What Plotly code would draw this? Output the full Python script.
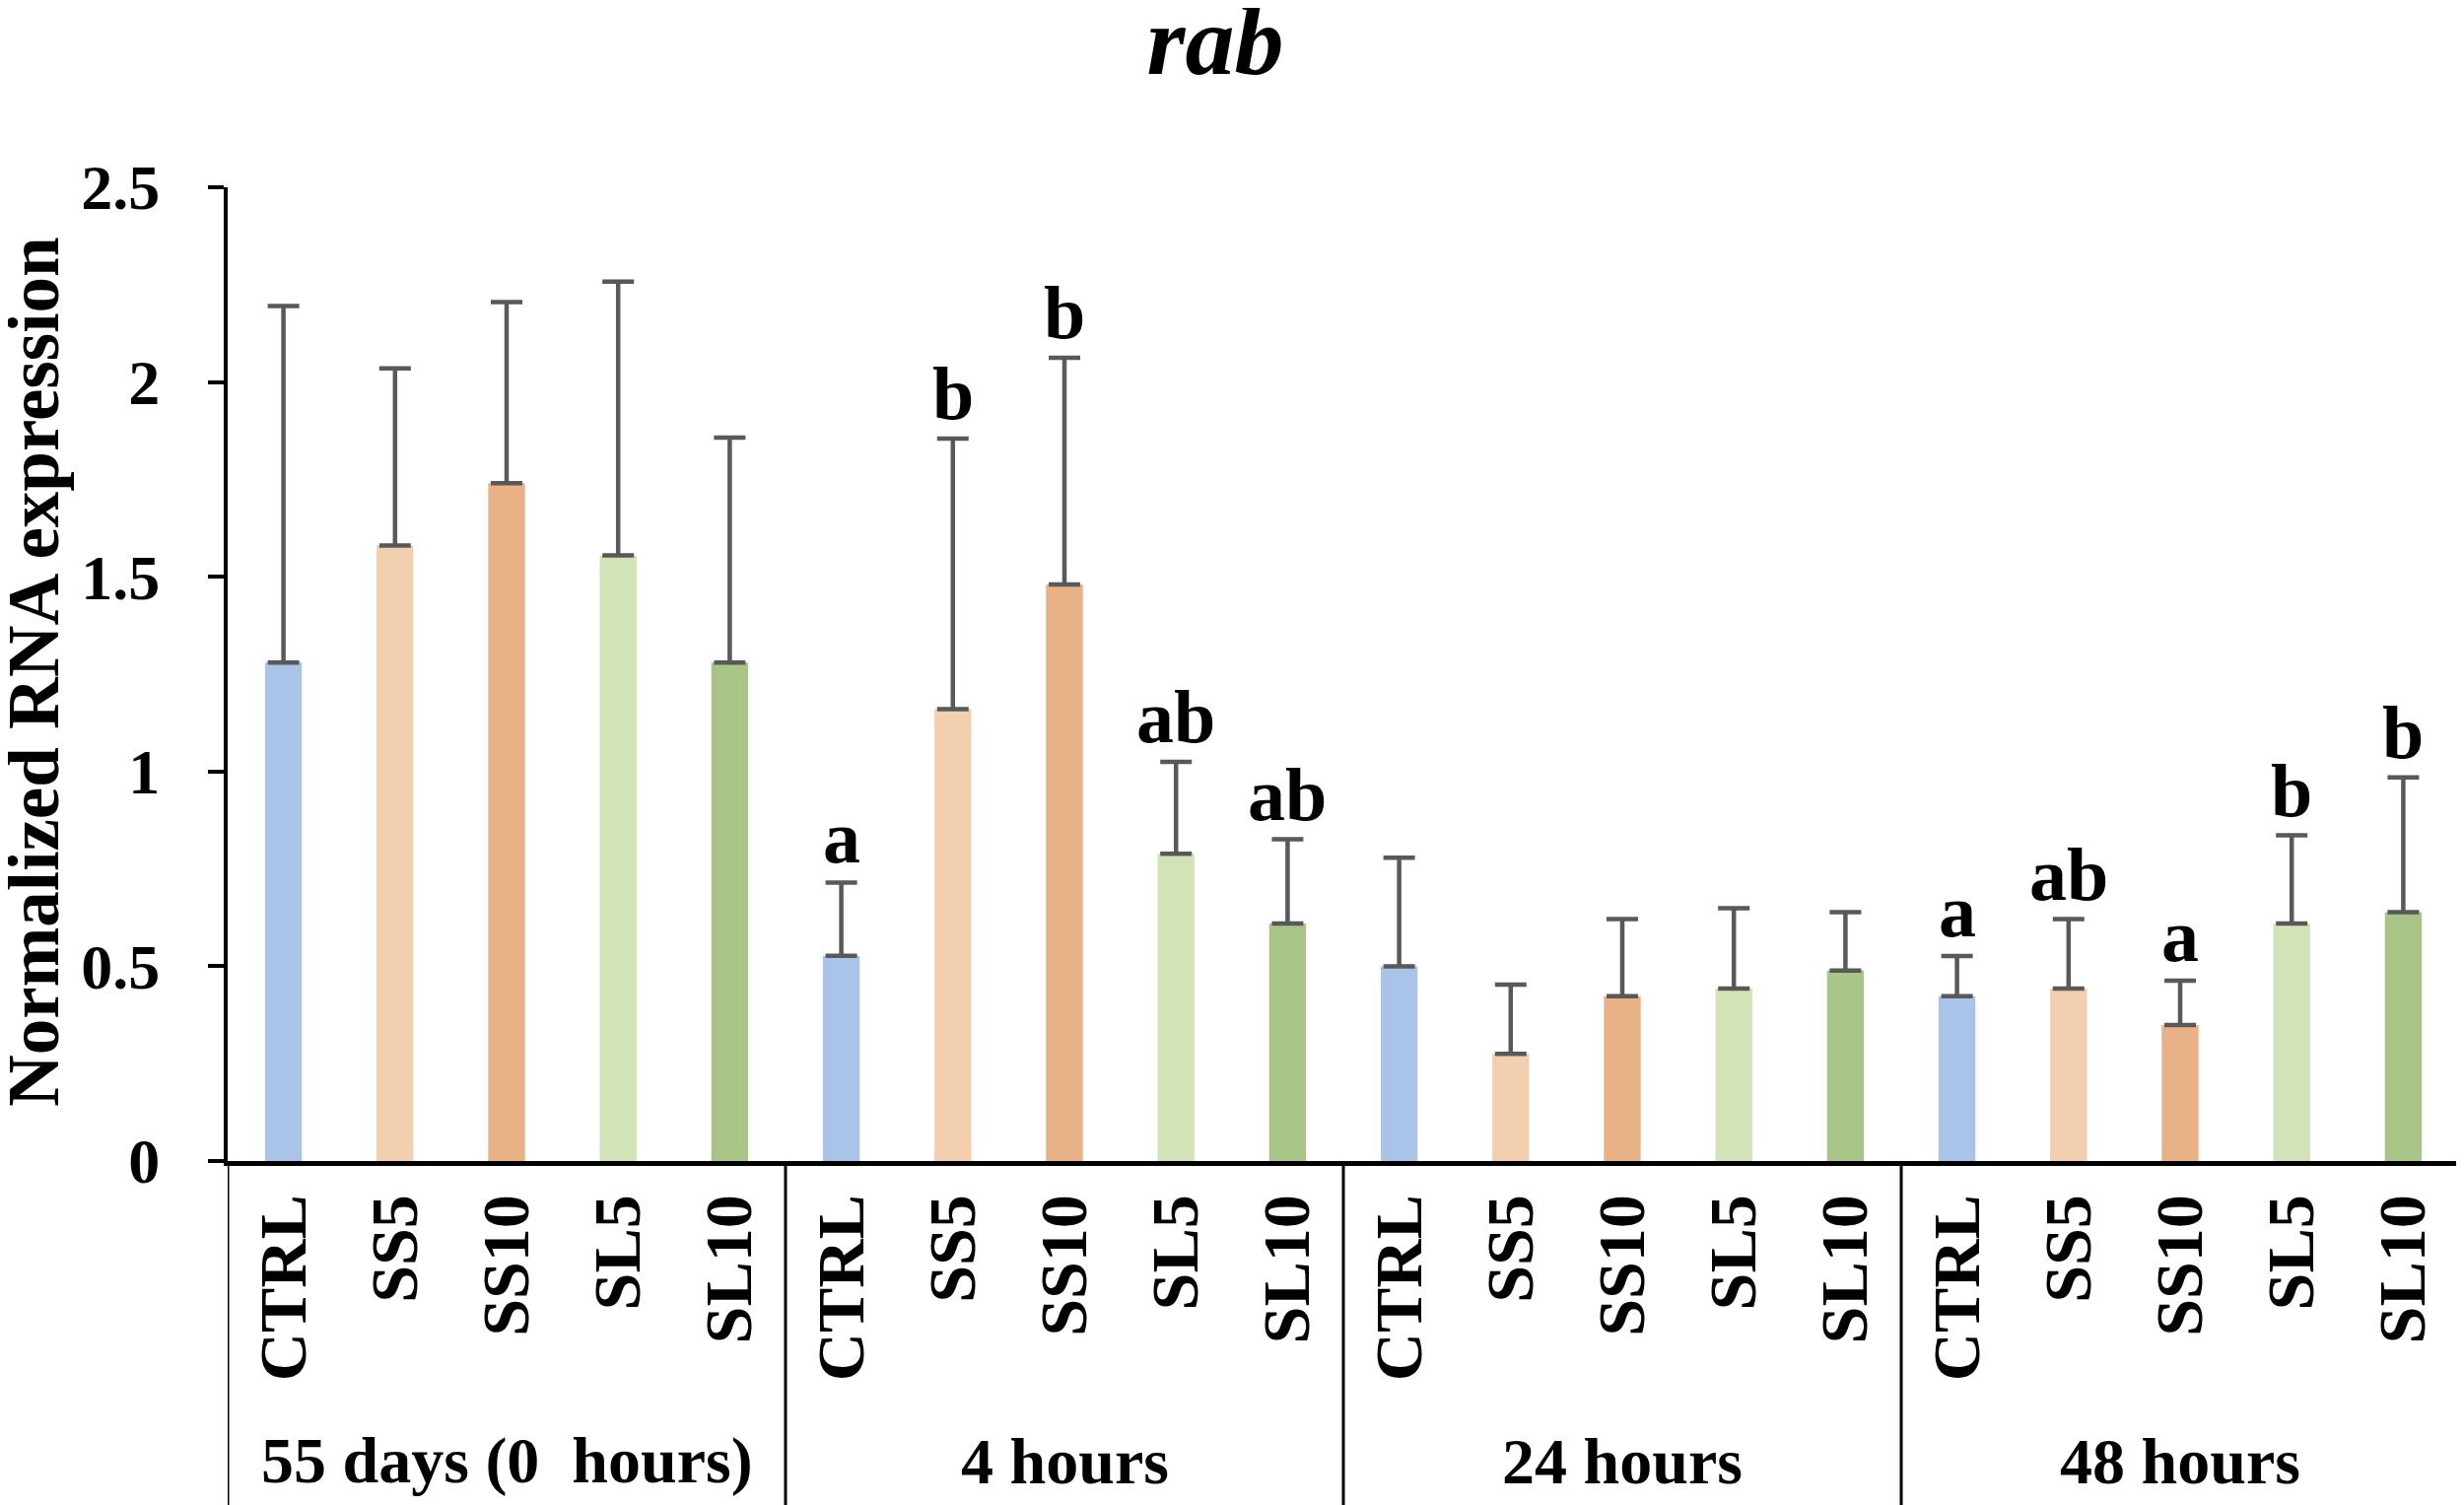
import plotly.graph_objects as go

# data
groups = ["55 days (0\u00a0 hours)", "4 hours", "24 hours", "48 hours"]
treatments = ["CTRL", "SS5", "SS10", "SL5", "SL10"]
colors = ["#A9C4E8", "#F2CFAE", "#E9B186", "#D2E4B7", "#A9C487"]

means = [1.28, 1.58, 1.74, 1.555, 1.28,
         0.527, 1.16, 1.48, 0.789, 0.61,
         0.50, 0.275, 0.423, 0.443, 0.489,
         0.423, 0.443, 0.349, 0.61, 0.639]
sd = [0.915, 0.455, 0.465, 0.703, 0.577,
      0.188, 0.695, 0.582, 0.236, 0.216,
      0.279, 0.178, 0.198, 0.206, 0.15,
      0.103, 0.178, 0.114, 0.226, 0.346]
letters = ["", "", "", "", "",
           "a", "b", "b", "ab", "ab",
           "", "", "", "", "",
           "a", "ab", "a", "b", "b"]

FONT = "Liberation Serif"

n = len(means)
xpos = list(range(n))
bar_colors = [colors[i % len(treatments)] for i in range(n)]
ticktext = [treatments[i % len(treatments)] for i in range(n)]

fig = go.Figure()
fig.add_trace(go.Bar(
    x=xpos, y=means, width=0.33,
    marker=dict(color=bar_colors, line=dict(width=0)),
    error_y=dict(type="data", symmetric=False, array=sd,
                 arrayminus=[0] * n, color="#595959",
                 thickness=4.5, width=16),
    showlegend=False,
))

# significance letters above the error bars
for i in range(n):
    if letters[i]:
        fig.add_annotation(x=xpos[i], y=means[i] + sd[i], text=letters[i],
                           showarrow=False, yanchor="bottom", yshift=2,
                           font=dict(family=FONT, size=76, color="black",
                                     weight="bold"))

# group labels and dividers under the axis
k = len(treatments)
for g, name in enumerate(groups):
    fig.add_annotation(x=g * k + (k - 1) / 2, y=-0.308, xref="x",
                       yref="paper", text=name, showarrow=False,
                       yanchor="middle",
                       font=dict(family=FONT, size=66, color="black",
                                 weight="bold"))
for g in range(len(groups) + 1):
    fig.add_shape(type="line", xref="x", yref="paper",
                  x0=g * k - 0.5, x1=g * k - 0.5, y0=0, y1=-0.36,
                  line=dict(color="black", width=3))

fig.add_annotation(x=-0.087, y=0.502, xref="paper", yref="paper",
                   xanchor="center", yanchor="middle",
                   text="Normalized RNA expression", textangle=-90,
                   showarrow=False,
                   font=dict(family=FONT, size=73, color="black",
                             weight="bold"))

fig.update_layout(
    width=2492, height=1519,
    paper_bgcolor="white", plot_bgcolor="white",
    margin=dict(l=223, r=5, t=182, b=349),
    title=dict(text="<i>rab</i>", x=0.4916, xanchor="center",
               y=0.979, yanchor="middle",
               font=dict(family=FONT, size=100, color="black",
                         weight="bold")),
    xaxis=dict(range=[-0.5, n - 0.5], tickvals=xpos, ticktext=ticktext,
               tickangle=-90, showline=True, linecolor="black",
               linewidth=5, ticks="", showgrid=False, zeroline=False,
               ticklabelstandoff=2,
               tickfont=dict(family=FONT, size=68, color="black",
                             weight="bold")),
    yaxis=dict(range=[0, 2.5], tickvals=[0, 0.5, 1, 1.5, 2, 2.5],
               ticktext=["0", "0.5", "1", "1.5", "2", "2.5"],
               showline=True, linecolor="black", linewidth=4,
               ticks="outside", ticklen=16, tickwidth=4,
               tickcolor="black", showgrid=False, zeroline=False,
               ticklabelstandoff=36,
               tickfont=dict(family=FONT, size=64, color="black",
                             weight="bold")),
)

fig.write_html("out.html")
